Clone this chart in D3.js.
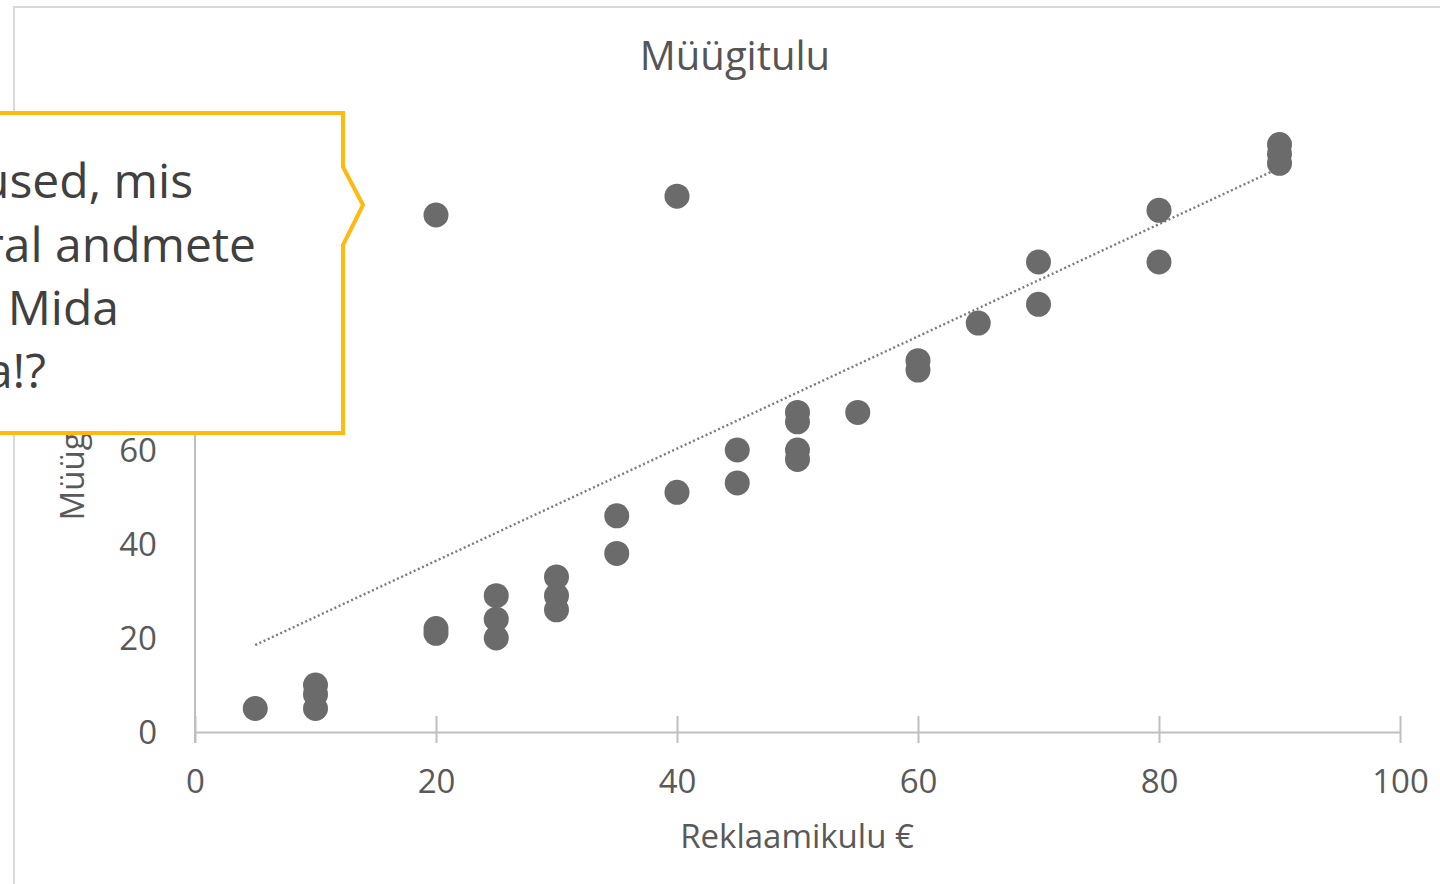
<!DOCTYPE html>
<html>
<head>
<meta charset="utf-8">
<script src="https://cdn.jsdelivr.net/npm/d3@7"></script>
<style>
  html, body { margin: 0; padding: 0; background: #fff; overflow: hidden; }
  svg { display: block; }
</style>
</head>
<body>
<svg id="chart" width="1440" height="884"></svg>
<script>
// ---- data ----
const reklaamikulu = [5, 10, 10, 10, 20, 20, 20, 25, 25, 25, 30, 30, 30, 35, 35, 40, 40, 45, 45, 50, 50, 50, 50, 55, 60, 60, 65, 70, 70, 80, 80, 90, 90, 90];
const myygitulu    = [5, 10, 8, 5, 110, 22, 21, 29, 24, 20, 33, 29, 26, 46, 38, 114, 51, 60, 53, 68, 66, 60, 58, 68, 79, 77, 87, 100, 91, 111, 100, 125, 123, 121];
const trendX = [5, 90];
const trendY = [18.5, 120];
const xTicks = [0, 20, 40, 60, 80, 100];
const yTicks = [0, 20, 40, 60];
const chartTitle = "Müügitulu";
const xTitle = "Reklaamikulu €";
const yTitle = "Müügitulu";
const calloutLines = ["used, mis", "ral andmete", "Mida", "a!?"];

// ---- layout ----
const svg = d3.select("#chart");
const font = "'Open Sans', 'Noto Sans', sans-serif";
const x = d3.scaleLinear().domain([0, 100]).range([195, 1400]);
const y = d3.scaleLinear().domain([0, 140]).range([732, 74]);

svg.append("rect").attr("width", 1440).attr("height", 884).attr("fill", "#fff");

// chart border
svg.append("path")
  .attr("d", "M14,884 L14,7 L1440,7")
  .attr("fill", "none").attr("stroke", "#d9d9d9").attr("stroke-width", 2);

// title
svg.append("text").attr("x", 735).attr("y", 70).attr("text-anchor", "middle")
  .attr("font-family", font).attr("font-size", 40).attr("fill", "#555").text(chartTitle);

// x axis
const xAxis = d3.axisBottom(x).tickValues(xTicks).tickSize(0).tickPadding(0).tickFormat(d3.format("d"));
const gx = svg.append("g").attr("transform", `translate(0,${y(0)})`).call(xAxis);
gx.select(".domain").attr("stroke", "#bfbfbf").attr("stroke-width", 2);
gx.selectAll(".tick line").remove();
gx.selectAll(".tick").append("line").attr("y1", -16).attr("y2", 11).attr("stroke", "#bfbfbf").attr("stroke-width", 2);
gx.selectAll(".tick text").attr("y", 61).attr("dy", 0)
  .attr("font-family", font).attr("font-size", 33).attr("fill", "#595959");

// y axis
const yAxis = d3.axisLeft(y).tickValues(yTicks).tickSize(0).tickPadding(0).tickFormat(d3.format("d"));
const gy = svg.append("g").attr("transform", `translate(${x(0)},0)`).call(yAxis);
gy.select(".domain").remove();
gy.append("line").attr("y1", y(0) + 11).attr("y2", y(120)).attr("stroke", "#bfbfbf").attr("stroke-width", 2);
gy.selectAll(".tick text").attr("x", -38).attr("dy", "0.35em")
  .attr("font-family", font).attr("font-size", 33).attr("fill", "#595959");

// axis titles
svg.append("text").attr("x", 797).attr("y", 848).attr("text-anchor", "middle")
  .attr("font-family", font).attr("font-size", 33).attr("fill", "#595959").text(xTitle);
svg.append("text").attr("transform", "translate(84,442) rotate(-90)").attr("text-anchor", "middle")
  .attr("font-family", font).attr("font-size", 33).attr("fill", "#595959").text(yTitle);

// trendline
const trend = trendX.map((v, i) => [v, trendY[i]]);
svg.append("path").datum(trend)
  .attr("d", d3.line().x(d => x(d[0])).y(d => y(d[1])))
  .attr("fill", "none").attr("stroke", "#7a7a7a").attr("stroke-width", 2.4)
  .attr("stroke-dasharray", "2 2.6");

// points
const pts = reklaamikulu.map((v, i) => ({ x: v, y: myygitulu[i] }));
svg.append("g").selectAll("circle").data(pts).join("circle")
  .attr("cx", d => x(d.x)).attr("cy", d => y(d.y)).attr("r", 12.5)
  .attr("fill", "#6b6b6b");

// callout
const co = svg.append("g");
co.append("path")
  .attr("d", "M-10,113 L343,113 L343,167 L363,205 L343,245 L343,433 L-10,433 Z")
  .attr("fill", "#fff").attr("stroke", "#FFB90F").attr("stroke-width", 4).attr("stroke-linejoin", "miter");
const lineEnds = [193, 256, 119, 46];
const lineBase = [198, 262, 325, 388];
co.selectAll("text").data(calloutLines).join("text")
  .attr("x", (d, i) => lineEnds[i]).attr("y", (d, i) => lineBase[i])
  .attr("text-anchor", "end")
  .attr("font-family", font).attr("font-size", 48).attr("fill", "#404040")
  .text(d => d);
</script>
</body>
</html>
